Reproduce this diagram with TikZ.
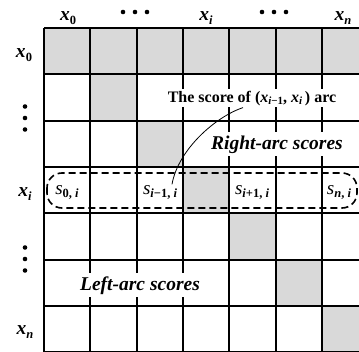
\documentclass[tikz,border=0pt]{standalone}
\usepackage{fontspec}
\setmainfont{Liberation Serif}
\usetikzlibrary{positioning}
\tikzstyle{tableau} = [x = 1pt, y = -1pt]
\definecolor{cellGray}{RGB}{217,217,217}
\tikzstyle{gridLine} = [color=black, line width=2pt]
\tikzstyle{grayCellStyle} = [fill=cellGray]
\tikzstyle{dotStyle} = [fill=black]
\tikzstyle{headText} = [anchor=base, inner sep=1pt, font=\fontsize{19.5}{19.5}\selectfont\bfseries\itshape]
\tikzstyle{scoreText} = [anchor=base, fill=white, inner sep=0.5pt, font=\fontsize{19}{19}\selectfont\itshape]
\tikzstyle{arcText} = [anchor=base, fill=white, inner sep=3pt, font=\fontsize{19.5}{19.5}\selectfont\bfseries\itshape]
\tikzstyle{noteText} = [anchor=base, fill=white, inner sep=2pt, font=\fontsize{16}{16}\selectfont\bfseries]
\tikzstyle{scoreBox} = [dash pattern=on 7pt off 4pt, line width=1.6pt, rounded corners=15pt]
\tikzstyle{noteLine} = [line width=0.8pt]
\newcommand{\cellSize}{46.3}
\newcommand{\gridLeft}{44}
\newcommand{\gridTop}{28}
\newcommand{\subIdx}[1]{\raisebox{-0.45ex}{\fontsize{12.5}{12.5}\selectfont\bfseries\upshape #1}}
\newcommand{\noteIdx}[1]{\raisebox{-0.4ex}{\fontsize{11}{11}\selectfont\bfseries\upshape #1}}
\newcommand{\grayCell}[2]{\fill [grayCellStyle] (\gridLeft + #2 * \cellSize, \gridTop + #1 * \cellSize) rectangle + (\cellSize, \cellSize);}
\newcommand{\gridLines}[1]{
  \pgfmathsetmacro{\gridEnd}{#1 * \cellSize}
  \foreach \lineNo in {0,...,#1} {
    \pgfmathsetmacro{\var}{\lineNo * \cellSize}
    \draw [gridLine] (\gridLeft + \var, \gridTop) -- + (0, \gridEnd);
    \draw [gridLine] (\gridLeft, \gridTop + \var) -- + (\gridEnd, 0);
  }
}
\newcommand{\dotRow}[2]{
  \foreach \shift in {-12, 0, 12} {
    \fill [dotStyle] (#1 + \shift, #2) circle (2.3);
  }
}
\newcommand{\dotColumn}[2]{
  \foreach \shift in {-11.5, 0, 11.5} {
    \fill [dotStyle] (#1, #2 + \shift) circle (2.3);
  }
}

\begin{document}
\begin{tikzpicture}[tableau]
  \useasboundingbox (0, 0) rectangle (359, 351);
  \begin{scope}
    \clip (0, 0) rectangle (359, 351);
    \foreach \column in {0,...,6} {
      \grayCell{0}{\column}
    }
    \foreach \row in {1,...,6} {
      \grayCell{\row}{\row}
    }
    \gridLines{7}
  \end{scope}

  % headers
  \node [headText] (colHeadZero) at (68, 20) {x\subIdx{0}};
  \dotRow{135}{12}
  \node [headText] (colHeadI) at (206, 20) {x\subIdx{\itshape i}};
  \dotRow{274}{12}
  \node [headText] (colHeadN) at (343, 20) {x\subIdx{\itshape n}};
  \node [headText] (rowHeadZero) at (24, 57) {x\subIdx{0}};
  \dotColumn{25}{118}
  \node [headText] (rowHeadI) at (25, 196) {x\subIdx{\itshape i}};
  \dotColumn{25}{259}
  \node [headText] (rowHeadN) at (25, 334) {x\subIdx{\itshape n}};

  % scores of x_i
  \draw [scoreBox] (47, 173) rectangle (357, 208);
  \node [scoreText] (sZero) at (67, 194) {s\subIdx{0, \itshape i}};
  \node [scoreText] (sPrev) at (160, 194) {s\subIdx{\itshape i\upshape {−}1, \itshape i}};
  \node [scoreText] (sNext) at (252, 194) {s\subIdx{\itshape i\upshape {+}1, \itshape i}};
  \node [scoreText] (sLast) at (339, 194) {s\subIdx{\itshape n\upshape, \itshape i}};

  \node [noteText] (scoreNote) at (252, 102) {The score of (\textit{x}\noteIdx{\itshape i\upshape −1}, \textit{x}\noteIdx{\itshape i}\,) arc};
  \node [arcText] (rightArc) at (277, 149) {Right-arc scores};
  \node [arcText] (leftArc) at (140, 290) {Left-arc scores};
  \draw [noteLine] ([xshift=-9pt]scoreNote.south) .. controls (215, 117) and (178, 150) .. ([xshift=12pt]sPrev.north);
\end{tikzpicture}
\end{document}
